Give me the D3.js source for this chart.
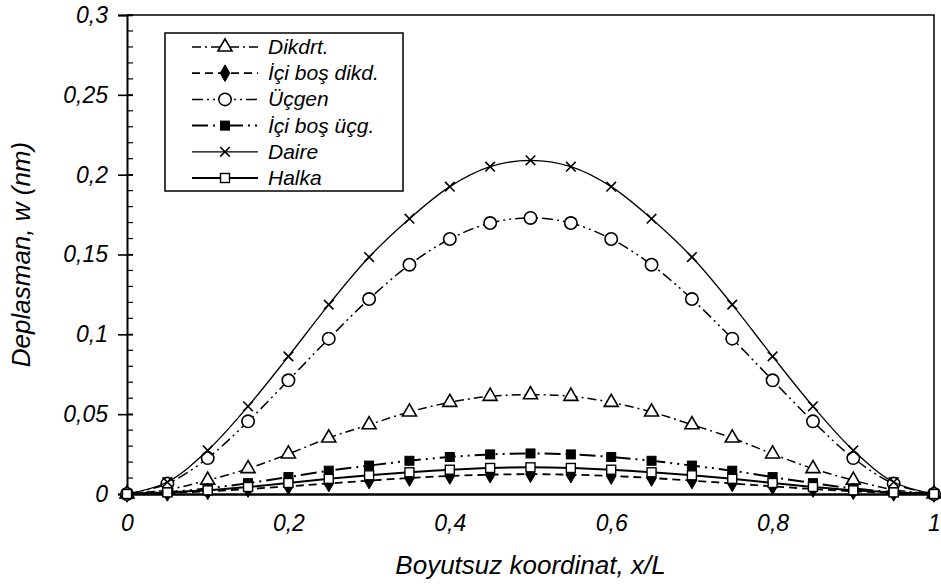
<!DOCTYPE html>
<html>
<head>
<meta charset="utf-8">
<script src="https://cdn.jsdelivr.net/npm/d3@7"></script>
<style>
  html, body { margin: 0; padding: 0; background: #fff; }
  svg { display: block; font-family: Arial, "Liberation Sans", sans-serif; font-style: italic; }
</style>
</head>
<body>
<div id="chart"></div>
<script>
// x/L positions
const xs = [0, 0.05, 0.1, 0.15, 0.2, 0.25, 0.3, 0.35, 0.4, 0.45, 0.5,
            0.55, 0.6, 0.65, 0.7, 0.75, 0.8, 0.85, 0.9, 0.95, 1];

const dikdrt     = [0, 0.0027, 0.0086, 0.0159, 0.0251, 0.0351, 0.0434, 0.0514, 0.0574, 0.0612, 0.0622,
                    0.0612, 0.0574, 0.0514, 0.0434, 0.0351, 0.0251, 0.0159, 0.0086, 0.0027, 0];
const iciBosDikd = [0, 0.0007, 0.0017, 0.0031, 0.0048, 0.0066, 0.0084, 0.0100, 0.0113, 0.0121, 0.0124,
                    0.0121, 0.0113, 0.0100, 0.0084, 0.0066, 0.0048, 0.0031, 0.0017, 0.0007, 0];
const ucgen      = [0, 0.0065, 0.0225, 0.0455, 0.0712, 0.0973, 0.1221, 0.1436, 0.1597, 0.1697, 0.1729,
                    0.1697, 0.1597, 0.1436, 0.1221, 0.0973, 0.0712, 0.0455, 0.0225, 0.0065, 0];
const iciBosUcg  = [0, 0.0012, 0.0035, 0.0068, 0.0106, 0.0146, 0.0178, 0.0208, 0.0232, 0.0248, 0.0254,
                    0.0248, 0.0232, 0.0208, 0.0178, 0.0146, 0.0106, 0.0068, 0.0035, 0.0012, 0];
const daire      = [0, 0.0075, 0.0273, 0.0549, 0.0862, 0.1186, 0.1484, 0.1724, 0.1925, 0.2050, 0.2090,
                    0.2050, 0.1925, 0.1724, 0.1484, 0.1186, 0.0862, 0.0549, 0.0273, 0.0075, 0];
const halka      = [0, 0.0010, 0.0023, 0.0044, 0.0069, 0.0095, 0.0117, 0.0136, 0.0152, 0.0163, 0.0167,
                    0.0163, 0.0152, 0.0136, 0.0117, 0.0095, 0.0069, 0.0044, 0.0023, 0.0010, 0];

const seriesNames = ["Dikdrt.", "İçi boş dikd.", "Üçgen", "İçi boş üçg.", "Daire", "Halka"];

const xTicks = [0, 0.2, 0.4, 0.6, 0.8, 1];
const yTicks = [0, 0.05, 0.1, 0.15, 0.2, 0.25, 0.3];

const series = [
  {name: seriesNames[0], values: dikdrt,     dash: "9,4,2,4",        width: 1.5, marker: "triangle"},
  {name: seriesNames[1], values: iciBosDikd, dash: "8,5",            width: 1.8, marker: "diamond"},
  {name: seriesNames[2], values: ucgen,      dash: "11,4,2,4,2,4",   width: 1.5, marker: "circle"},
  {name: seriesNames[3], values: iciBosUcg,  dash: "16,5,2,5,2,5",   width: 2,   marker: "fsquare"},
  {name: seriesNames[4], values: daire,      dash: null,             width: 1.3, marker: "cross"},
  {name: seriesNames[5], values: halka,      dash: null,             width: 2,   marker: "square"}
];

const width = 941, height = 585;
const margin = {top: 15, right: 7, bottom: 91, left: 127};

const svg = d3.select("#chart").append("svg")
    .attr("width", width)
    .attr("height", height);

const x = d3.scaleLinear().domain([0, 1]).range([margin.left, width - margin.right]);
const y = d3.scaleLinear().domain([0, 0.3]).range([height - margin.bottom, margin.top]);

const fmt = d => String(d).replace(".", ",");

// plot frame (top + right thin)
svg.append("path")
    .attr("d", `M${x(0)},${y(0.3)}H${x(1)}V${y(0)}`)
    .attr("fill", "none")
    .attr("stroke", "#000")
    .attr("stroke-width", 1.5);

// minor ticks inside the y axis
const minor = d3.range(0, 31).map(i => i / 100);
svg.append("g").selectAll("line")
  .data(minor)
  .join("line")
    .attr("x1", x(0)).attr("x2", x(0) + 6)
    .attr("y1", d => y(d)).attr("y2", d => y(d))
    .attr("stroke", "#000").attr("stroke-width", 1.2);

const yAxis = svg.append("g")
    .attr("transform", `translate(${x(0)},0)`)
    .call(d3.axisLeft(y).tickValues(yTicks).tickFormat(fmt).tickSize(9).tickPadding(10));
yAxis.select(".domain").attr("stroke-width", 2);
// major ticks cross the axis
yAxis.selectAll(".tick line").attr("x1", 6).attr("stroke-width", 1.6);
yAxis.selectAll("text").attr("font-size", 23).attr("font-family", null).attr("fill", "#000");

// x axis, no tick marks
const xAxis = svg.append("g")
    .attr("transform", `translate(0,${y(0)})`)
    .call(d3.axisBottom(x).tickValues(xTicks).tickFormat(fmt).tickSize(0).tickPadding(21));
xAxis.select(".domain").attr("stroke-width", 2.5);
xAxis.selectAll("text").attr("font-size", 23).attr("font-family", null).attr("fill", "#000");

// titles
svg.append("text")
    .attr("x", (x(0) + x(1)) / 2).attr("y", 574)
    .attr("text-anchor", "middle")
    .attr("font-size", 26)
    .text("Boyutsuz koordinat, x/L");

svg.append("text")
    .attr("transform", `translate(30,${(y(0) + y(0.3)) / 2}) rotate(-90)`)
    .attr("text-anchor", "middle")
    .attr("font-size", 26)
    .text("Deplasman, w (nm)");

// markers
function drawMarker(g, type, cx, cy) {
  if (type === "triangle") {
    g.append("path").attr("d", d3.symbol(d3.symbolTriangle, 85)())
      .attr("transform", `translate(${cx},${cy})`)
      .attr("fill", "#fff").attr("stroke", "#000").attr("stroke-width", 1.6);
  } else if (type === "diamond") {
    g.append("path").attr("d", d3.symbol(d3.symbolDiamond, 80)())
      .attr("transform", `translate(${cx},${cy})`)
      .attr("fill", "#000").attr("stroke", "#000").attr("stroke-width", 1);
  } else if (type === "circle") {
    g.append("circle").attr("cx", cx).attr("cy", cy).attr("r", 6.2)
      .attr("fill", "#fff").attr("stroke", "#000").attr("stroke-width", 1.6);
  } else if (type === "fsquare") {
    g.append("rect").attr("x", cx - 4.5).attr("y", cy - 4.5).attr("width", 9).attr("height", 9)
      .attr("fill", "#000").attr("stroke", "#000").attr("stroke-width", 1);
  } else if (type === "square") {
    g.append("rect").attr("x", cx - 4.5).attr("y", cy - 4.5).attr("width", 9).attr("height", 9)
      .attr("fill", "#fff").attr("stroke", "#000").attr("stroke-width", 1.4);
  } else if (type === "cross") {
    const s = 4.8;
    g.append("path").attr("d", `M${cx - s},${cy - s}L${cx + s},${cy + s}M${cx - s},${cy + s}L${cx + s},${cy - s}`)
      .attr("stroke", "#000").attr("stroke-width", 1.6);
  }
}

const line = d3.line()
    .x((d, i) => x(xs[i]))
    .y(d => y(d))
    .curve(d3.curveCatmullRom.alpha(0.5));

series.forEach(s => {
  const g = svg.append("g");
  g.append("path")
    .attr("d", line(s.values))
    .attr("fill", "none")
    .attr("stroke", "#000")
    .attr("stroke-width", s.width)
    .attr("stroke-dasharray", s.dash);
  s.values.forEach((v, i) => drawMarker(g, s.marker, x(xs[i]), y(v)));
});

// legend
const lg = svg.append("g");
lg.append("rect")
    .attr("x", 165).attr("y", 33).attr("width", 238).attr("height", 158)
    .attr("fill", "#fff").attr("stroke", "#000").attr("stroke-width", 1.5);

series.forEach((s, i) => {
  const cy = 47 + i * 26.2;
  lg.append("line")
    .attr("x1", 192).attr("x2", 258).attr("y1", cy).attr("y2", cy)
    .attr("stroke", "#000").attr("stroke-width", s.width)
    .attr("stroke-dasharray", s.dash);
  drawMarker(lg, s.marker, 225, cy);
  lg.append("text")
    .attr("x", 268).attr("y", cy + 7)
    .attr("font-size", 21)
    .text(s.name);
});
</script>
</body>
</html>
